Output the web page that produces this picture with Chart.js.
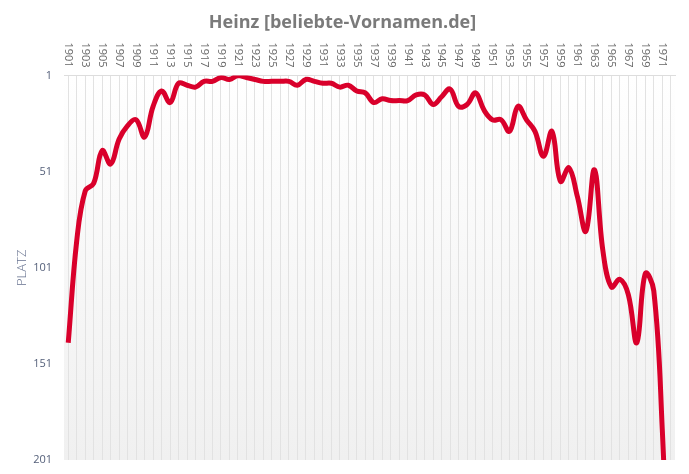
<!DOCTYPE html>
<html lang="de">
<head>
    <meta charset="UTF-8">
    <meta name="viewport" content="width=device-width, initial-scale=1.0">
    <title>Heinz [beliebte-Vornamen.de]</title>
    <script src="https://cdn.jsdelivr.net/npm/chart.js"></script>
    <style>
        html, body {
            margin: 0;
            padding: 0;
            background-color: #ffffff;
        }
        .chart-box {
            width: 689px;
            height: 474px;
        }
    </style>
</head>
<body>
    <div class="chart-box">
        <canvas id="nameChart"></canvas>
    </div>

    <script>
        const years = [
            1901, 1902, 1903, 1904, 1905, 1906, 1907, 1908, 1909, 1910,
            1911, 1912, 1913, 1914, 1915, 1916, 1917, 1918, 1919, 1920,
            1921, 1922, 1923, 1924, 1925, 1926, 1927, 1928, 1929, 1930,
            1931, 1932, 1933, 1934, 1935, 1936, 1937, 1938, 1939, 1940,
            1941, 1942, 1943, 1944, 1945, 1946, 1947, 1948, 1949, 1950,
            1951, 1952, 1953, 1954, 1955, 1956, 1957, 1958, 1959, 1960,
            1961, 1962, 1963, 1964, 1965, 1966, 1967, 1968, 1969, 1970,
            1971, 1972
        ];
        // rank per year (1 = most popular)
        const ranks = [
            140, 87, 61, 57, 40, 47, 34, 27, 24, 33,
            17, 9, 15, 5, 6, 7, 4, 4, 2, 3,
            1, 2, 3, 4, 4, 4, 4, 6, 3, 4,
            5, 5, 7, 6, 9, 10, 15, 13, 14, 14,
            14, 11, 11, 16, 12, 8, 17, 16, 10, 19,
            24, 24, 30, 17, 24, 30, 43, 30, 56, 49,
            64, 82, 50, 92, 111, 107, 115, 140, 104, 113,
            185, 300
        ];
        const rankTicks = [1, 51, 101, 151, 201];

        // light vertical gradient behind the plot area
        const plotBackground = {
            id: 'plotBackground',
            beforeDraw(chart) {
                const { ctx, chartArea: a } = chart;
                const grad = ctx.createLinearGradient(0, a.top, 0, a.bottom);
                grad.addColorStop(0, '#ffffff');
                grad.addColorStop(1, '#f0f0f0');
                ctx.save();
                ctx.fillStyle = grad;
                ctx.fillRect(a.left, a.top, a.right - a.left, a.bottom - a.top);
                ctx.restore();
            }
        };

        // year labels on top, turned clockwise (read top to bottom)
        const topYearLabels = {
            id: 'topYearLabels',
            afterDraw(chart) {
                const sc = chart.scales.x;
                const ctx = chart.ctx;
                const yEnd = chart.chartArea.top - 8;
                ctx.save();
                ctx.font = '11px "Open Sans"';
                ctx.fillStyle = '#666666';
                ctx.textAlign = 'right';
                ctx.textBaseline = 'middle';
                sc.ticks.forEach((t, i) => {
                    const yr = years[t.value];
                    if (yr % 2 === 0) return;
                    ctx.save();
                    ctx.translate(sc.getPixelForTick(i), yEnd);
                    ctx.rotate(Math.PI / 2);
                    ctx.fillText(String(yr), 0, 0);
                    ctx.restore();
                });
                ctx.restore();
            }
        };

        const ctx = document.getElementById('nameChart').getContext('2d');
        const nameChart = new Chart(ctx, {
            type: 'line',
            data: {
                labels: years,
                datasets: [{
                    label: 'Heinz',
                    data: ranks,
                    borderColor: '#d9002b',
                    backgroundColor: '#d9002b',
                    borderWidth: 5,
                    tension: 0.4,
                    pointRadius: 0,
                    pointHoverRadius: 0,
                    fill: false
                }]
            },
            options: {
                responsive: true,
                maintainAspectRatio: false,
                animation: false,
                layout: {
                    padding: { left: 10, right: 14, bottom: 14, top: 0 }
                },
                plugins: {
                    legend: { display: false },
                    tooltip: { enabled: false },
                    title: {
                        display: true,
                        text: 'Heinz [beliebte-Vornamen.de]',
                        color: '#7a7a7a',
                        font: { family: 'Open Sans', size: 18, weight: 'bold' },
                        padding: { top: 12, bottom: 8 }
                    }
                },
                scales: {
                    x: {
                        position: 'top',
                        offset: true,
                        grid: {
                            color: '#e2e2e2',
                            drawTicks: false
                        },
                        border: { color: '#dddddd' },
                        ticks: {
                            autoSkip: false,
                            minRotation: 90,
                            maxRotation: 90,
                            padding: 8,
                            color: 'rgba(0,0,0,0)',
                            font: { family: 'Open Sans', size: 11 },
                            callback: (v, i) => (years[i] % 2 ? String(years[i]) : '')
                        },
                        afterFit: (scale) => {
                            scale.height = 34;
                            scale.paddingLeft = 0;
                            scale.paddingRight = 0;
                        }
                    },
                    y: {
                        reverse: true,
                        min: 1,
                        max: 201,
                        grid: { display: false, drawTicks: false },
                        border: { display: false },
                        afterBuildTicks: (scale) => {
                            scale.ticks = rankTicks.map(v => ({ value: v }));
                        },
                        afterFit: (scale) => {
                            scale.width = 54;
                            scale.paddingTop = 0;
                            scale.paddingBottom = 0;
                        },
                        ticks: {
                            padding: 12,
                            color: '#55607a',
                            font: { family: 'Open Sans', size: 11 }
                        },
                        title: {
                            display: true,
                            text: 'PLATZ',
                            color: '#67728f',
                            font: { family: 'Open Sans', size: 13, weight: 300 }
                        }
                    }
                }
            },
            plugins: [plotBackground, topYearLabels]
        });
    </script>
</body>
</html>
